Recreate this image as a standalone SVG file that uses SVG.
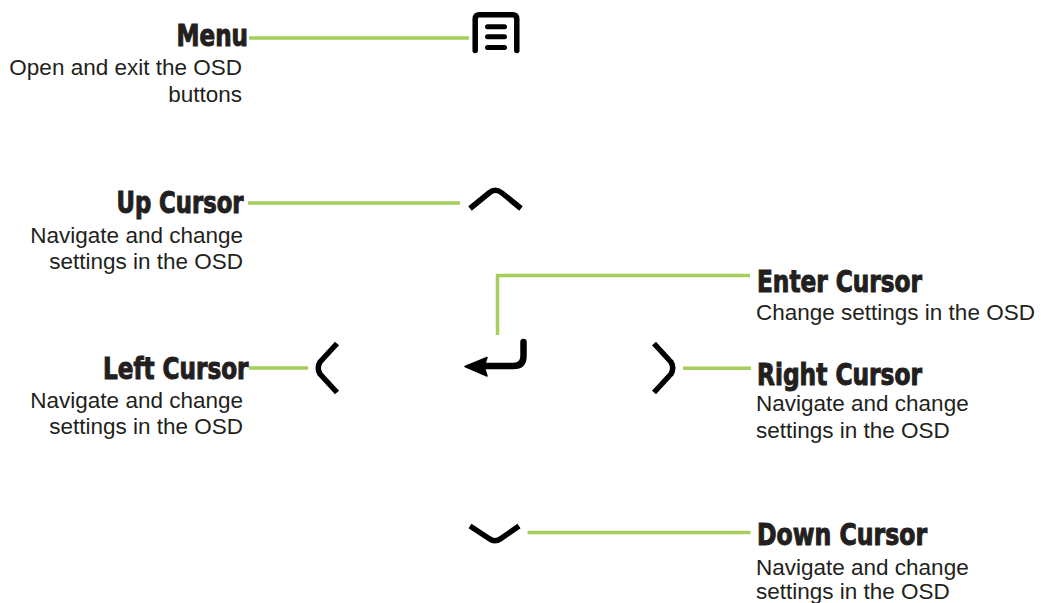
<svg xmlns="http://www.w3.org/2000/svg" width="1041" height="603" viewBox="0 0 1041 603">
<style>
.t{font-family:"Liberation Sans Narrow","DejaVu Sans Condensed","Liberation Sans",sans-serif;font-weight:bold;font-size:30px;fill:#231f20;stroke:#231f20;stroke-width:1px}
.d{font-family:"Liberation Sans",Arial,sans-serif;font-size:22.5px;fill:#231f20}
.r{text-anchor:end}
.c{fill:none;stroke:#a5cf5a;stroke-width:3.5}
.i{fill:none;stroke:#000;stroke-width:5.5;stroke-linejoin:round}
</style>
<rect width="1041" height="603" fill="#fff"/>
<g id="connectors">
<line class="c" x1="249" y1="38" x2="469" y2="38"/>
<line class="c" x1="248" y1="203" x2="460" y2="203"/>
<line class="c" x1="249" y1="368" x2="308" y2="368"/>
<line class="c" x1="683" y1="368.3" x2="751" y2="368.3"/>
<polyline class="c" points="497.5,335 497.5,275.5 750,275.5"/>
<line class="c" x1="527.5" y1="532.5" x2="750.5" y2="532.5"/>
</g>
<g id="menu">
<path class="i" d="M475.2,50.5 V19 Q475.2,14.8 479.5,14.8 H512.5 Q516.8,14.8 516.8,19 V50.5" stroke-linecap="round"/>
<g stroke="#000" stroke-width="5" stroke-linecap="round">
<line x1="487.5" y1="26.7" x2="504.5" y2="26.7"/>
<line x1="487.5" y1="36.7" x2="504.5" y2="36.7"/>
<line x1="487.5" y1="47.5" x2="504.5" y2="47.5"/>
</g>
<text class="t" x="176.5" y="46" textLength="71.5" lengthAdjust="spacingAndGlyphs">Menu</text>
<text class="d r" x="242" y="75">Open and exit the OSD</text>
<text class="d r" x="242" y="102">buttons</text>
</g>
<g id="up-cursor">
<path class="i" d="M470,208.5 L489,193 Q495.5,187.5 502,193 L521,208.5"/>
<text class="t" x="116.5" y="213" textLength="127" lengthAdjust="spacingAndGlyphs">Up Cursor</text>
<text class="d r" x="243" y="243">Navigate and change</text>
<text class="d r" x="243" y="269">settings in the OSD</text>
</g>
<g id="left-cursor">
<path class="i" d="M337,343.5 L320,362 Q316.5,368 320,374 L337,392.5"/>
<text class="t" x="103" y="378.5" textLength="145.5" lengthAdjust="spacingAndGlyphs">Left Cursor</text>
<text class="d r" x="243" y="408">Navigate and change</text>
<text class="d r" x="243" y="434">settings in the OSD</text>
</g>
<g id="enter-cursor">
<path d="M523.5,342 V356 Q523.5,366 513.5,366 H484" fill="none" stroke="#000" stroke-width="6.5" stroke-linecap="round"/>
<polygon points="465,366.5 487,357.5 484,366.5 487,376" fill="#000" stroke="#000" stroke-width="1.5" stroke-linejoin="round"/>
<text class="t" x="757" y="292" textLength="165" lengthAdjust="spacingAndGlyphs">Enter Cursor</text>
<text class="d" x="756" y="320">Change settings in the OSD</text>
</g>
<g id="right-cursor">
<path class="i" d="M654,343.5 L671,362 Q674.5,368 671,374 L654,392.5"/>
<text class="t" x="757" y="385" textLength="165" lengthAdjust="spacingAndGlyphs">Right Cursor</text>
<text class="d" x="756" y="411">Navigate and change</text>
<text class="d" x="756" y="438">settings in the OSD</text>
</g>
<g id="down-cursor">
<path class="i" d="M470,526 L489,538.5 Q495,543 501,538.5 L519,526"/>
<text class="t" x="757" y="545" textLength="170" lengthAdjust="spacingAndGlyphs">Down Cursor</text>
<text class="d" x="756" y="575">Navigate and change</text>
<text class="d" x="756" y="599">settings in the OSD</text>
</g>
</svg>
